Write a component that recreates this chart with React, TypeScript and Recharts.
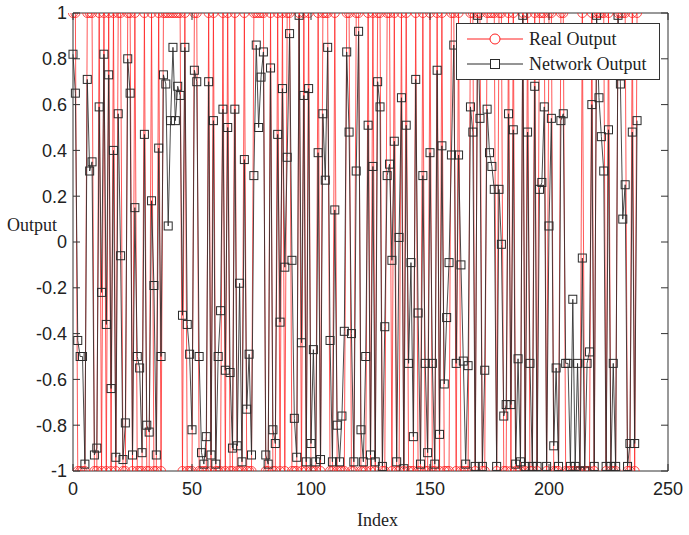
import React from "react";
import { LineChart, Line, XAxis, YAxis, ReferenceLine } from "recharts";

// network output, one value per sample index
const networkOutput = [
  0.82, 0.65, -0.43, -0.5, -0.5, -0.97, 0.71, 0.31, 0.35, -0.93,
  -0.9, 0.59, -0.22, 0.82, -0.36, 0.73, -0.64, 0.4, -0.94, 0.56,
  -0.06, -0.95, -0.79, 0.8, 0.65, -0.93, 0.15, -0.5, -0.55, -0.92,
  0.47, -0.8, -0.83, 0.18, -0.19, -0.93, 0.41, -0.5, 0.73, 0.69,
  0.07, 0.53, 0.85, 0.53, 0.68, 0.64, -0.32, 0.85, -0.36, -0.49,
  -0.82, 0.75, 0.7, -0.5, -0.92, -0.97, -0.85, 0.7, -0.93, 0.53,
  -0.97, -0.5, -0.3, 0.58, -0.56, 0.5, -0.57, -0.9, 0.58, -0.89,
  -0.18, -0.96, 0.36, -0.73, -0.49, -0.93, 0.29, 0.86, 0.5, 0.72,
  0.83, -0.93, -0.97, 0.76, -0.82, -0.88, 0.47, -0.35, 0.67, -0.11,
  0.37, 0.91, -0.08, -0.77, -0.94, 0.99, -0.44, 0.64, -0.96, 0.67,
  -0.88, -0.47, -0.96, 0.39, -0.95, 0.56, 0.27, 0.85, -0.43, -0.96,
  0.14, -0.8, -0.96, -0.76, -0.39, 0.83, 0.48, -0.4, -0.96, 0.31,
  0.92, -0.82, -0.96, -0.5, 0.51, -0.93, 0.33, -0.96, 0.7, 0.59,
  -0.98, -0.37, 0.29, 0.34, -0.08, 0.44, -0.96, 0.02, 0.63, -0.99,
  0.51, -0.53, -0.09, -0.85, 0.71, -0.31, -0.97, 0.29, -0.53, -0.92,
  0.39, -0.53, -0.97, 0.75, -0.84, 0.42, -0.62, -0.33, -0.09, 0.38,
  0.86, -0.53, 0.38, -0.1, -0.52, -0.97, -0.54, 0.59, 0.48, -0.98,
  0.99, 0.54, -0.98, -0.56, 0.58, 0.39, 0.33, 0.23, -0.98, 0.23,
  -0.01, -0.76, -0.71, 0.56, -0.71, 0.49, -0.97, -0.51, -0.96, 0.99,
  -0.98, 0.48, -0.53, -0.98, 0.68, -0.98, 0.23, 0.26, 0.59, -0.98,
  0.07, 0.54, -0.89, -0.55, -0.98, 0.53, 0.56, -0.53, -0.53, -0.98,
  -0.25, -0.98, -0.53, -1.0, -0.07, -1.0, -0.53, -0.48, 0.6, -0.98,
  0.99, 0.63, 0.46, 0.31, -0.98, 0.49, -0.98, -0.53, -0.98, 0.99,
  0.69, 0.1, 0.25, -0.98, -0.88, 0.48, -0.88, 0.53,
];

// target class (+1 / -1) for each sample
const realOutput = [
  1, 1, -1, -1, -1, -1, 1, 1, 1, -1,
  -1, 1, -1, 1, -1, 1, -1, 1, -1, 1,
  1, -1, -1, 1, 1, -1, 1, -1, -1, -1,
  1, -1, -1, 1, -1, -1, 1, -1, 1, 1,
  1, 1, 1, 1, 1, 1, -1, 1, -1, -1,
  -1, 1, 1, -1, -1, -1, -1, 1, -1, 1,
  -1, -1, -1, 1, -1, 1, -1, -1, 1, -1,
  -1, -1, 1, -1, -1, -1, 1, 1, 1, 1,
  1, -1, -1, 1, -1, -1, 1, -1, 1, -1,
  1, 1, -1, -1, -1, 1, -1, 1, -1, 1,
  -1, -1, -1, 1, -1, 1, 1, 1, -1, -1,
  1, -1, -1, -1, -1, 1, 1, -1, -1, 1,
  1, -1, -1, -1, 1, -1, 1, -1, 1, 1,
  -1, -1, 1, 1, -1, 1, -1, -1, 1, -1,
  1, -1, -1, -1, 1, -1, -1, 1, -1, -1,
  1, -1, -1, 1, -1, 1, -1, -1, -1, 1,
  1, -1, 1, -1, -1, -1, -1, 1, 1, -1,
  1, 1, -1, -1, 1, 1, 1, 1, -1, 1,
  1, -1, -1, 1, -1, 1, -1, -1, -1, 1,
  -1, 1, -1, -1, 1, -1, 1, 1, 1, -1,
  1, 1, -1, -1, -1, 1, 1, -1, -1, -1,
  -1, -1, -1, -1, 1, -1, -1, -1, 1, -1,
  1, 1, 1, 1, -1, 1, -1, -1, -1, 1,
  1, 1, 1, -1, -1, 1, -1, 1,
];

const xTicks = [0, 50, 100, 150, 200, 250];
const yTicks = [-1, -0.8, -0.6, -0.4, -0.2, 0, 0.2, 0.4, 0.6, 0.8, 1];

const data = networkOutput.map((v, i) => ({
  idx: i,
  real: realOutput[i],
  net: v,
}));

const W = 689;
const H = 535;
const MARGIN = { top: 13, right: 21, bottom: 34, left: 0 };
const Y_AXIS_W = 73;
const X_AXIS_H = 30;
const PLOT_RIGHT = W - MARGIN.right;
const PLOT_TOP = MARGIN.top;
const Y_GAP = 6;
const X_GAP = 11;
const TICK_LEN = 7;

const RED = "#ff2020";
const DARK = "#2a2a2a";
const FRAME = "#333";
const SANS = "'Liberation Sans', Arial, sans-serif";
const SERIF = "'Liberation Serif', 'Times New Roman', serif";

const fmt = (v: number) => String(Math.round(v * 10) / 10);

const YTick = (props: any) => {
  const { x, y, payload } = props;
  const left = x + Y_GAP;
  return (
    <g>
      <line x1={left} x2={left + TICK_LEN} y1={y} y2={y} stroke={FRAME} />
      <line x1={PLOT_RIGHT - TICK_LEN} x2={PLOT_RIGHT} y1={y} y2={y} stroke={FRAME} />
      <text x={x} y={y} dy="0.35em" textAnchor="end" fontFamily={SANS} fontSize={18} fill="#222">
        {fmt(payload.value)}
      </text>
    </g>
  );
};

const XTick = (props: any) => {
  const { x, y, payload } = props;
  const bottom = y - X_GAP;
  return (
    <g>
      <line x1={x} x2={x} y1={bottom - TICK_LEN} y2={bottom} stroke={FRAME} />
      <line x1={x} x2={x} y1={PLOT_TOP} y2={PLOT_TOP + TICK_LEN} stroke={FRAME} />
      <text x={x} y={y} dy="0.71em" textAnchor="middle" fontFamily={SANS} fontSize={18} fill="#222">
        {payload.value}
      </text>
    </g>
  );
};

const RealDot = (props: any) => {
  const { cx, cy, index } = props;
  return <circle key={`r${index}`} cx={cx} cy={cy} r={4.5} fill="none" stroke={RED} strokeOpacity={0.8} strokeWidth={1} />;
};

const NetDot = (props: any) => {
  const { cx, cy, index } = props;
  return <rect key={`n${index}`} x={cx - 4} y={cy - 4} width={8} height={8} fill="none" stroke={DARK} strokeWidth={1} />;
};

const Legend = () => (
  <div
    style={{
      position: "absolute",
      left: 456,
      top: 23,
      width: 202,
      height: 55,
      border: `1px solid ${FRAME}`,
      background: "white",
      fontFamily: SERIF,
      fontSize: 18,
      color: "#222",
    }}
  >
    {[
      { name: "Real Output", color: RED, marker: "circle" },
      { name: "Network Output", color: DARK, marker: "square" },
    ].map((item, i) => (
      <div key={item.name} style={{ position: "absolute", left: 10, top: 3 + i * 25, height: 24, display: "flex", alignItems: "center" }}>
        <svg width={58} height={24}>
          <line x1={0} x2={56} y1={12} y2={12} stroke={item.color} />
          {item.marker === "circle" ? (
            <circle cx={28} cy={12} r={5} fill="white" stroke={item.color} />
          ) : (
            <rect x={23.5} y={7.5} width={9} height={9} fill="white" stroke={item.color} />
          )}
        </svg>
        <span style={{ marginLeft: 4, whiteSpace: "nowrap" }}>{item.name}</span>
      </div>
    ))}
  </div>
);

export default function App() {
  return (
    <div style={{ position: "absolute", left: 0, top: 0, width: W, height: H, background: "white" }}>
      <LineChart width={W} height={H} data={data} margin={MARGIN}>
        <XAxis
          dataKey="idx"
          type="number"
          domain={[0, 250]}
          ticks={xTicks}
          height={X_AXIS_H}
          tickSize={0}
          tickLine={false}
          tickMargin={X_GAP}
          tick={<XTick />}
          stroke={FRAME}
          interval={0}
          label={{
            content: (p: any) => {
              const vb = p.viewBox;
              return (
                <text x={vb.x + vb.width / 2 + 7} y={vb.y + vb.height + 19} textAnchor="middle" dominantBaseline="central" fontFamily={SERIF} fontSize={18} fill="#222">
                  Index
                </text>
              );
            },
          }}
        />
        <YAxis
          type="number"
          domain={[-1, 1]}
          ticks={yTicks}
          width={Y_AXIS_W}
          tickSize={0}
          tickLine={false}
          tickMargin={Y_GAP}
          tick={<YTick />}
          stroke={FRAME}
          interval={0}
          allowDataOverflow
          label={{
            content: (p: any) => {
              const vb = p.viewBox;
              return (
                <text x={vb.x + 7} y={vb.y + vb.height / 2 - 17} dominantBaseline="central" fontFamily={SERIF} fontSize={18} fill="#222">
                  Output
                </text>
              );
            },
          }}
        />
        <ReferenceLine y={1} stroke={FRAME} />
        <ReferenceLine x={250} stroke={FRAME} />
        <Line
          type="linear"
          dataKey="real"
          stroke={RED}
          strokeOpacity={0.75}
          strokeWidth={1}
          dot={RealDot}
          activeDot={false}
          isAnimationActive={false}
        />
        <Line
          type="linear"
          dataKey="net"
          stroke={DARK}
          strokeOpacity={0.85}
          strokeWidth={1}
          dot={NetDot}
          activeDot={false}
          isAnimationActive={false}
        />
      </LineChart>
      <Legend />
    </div>
  );
}
